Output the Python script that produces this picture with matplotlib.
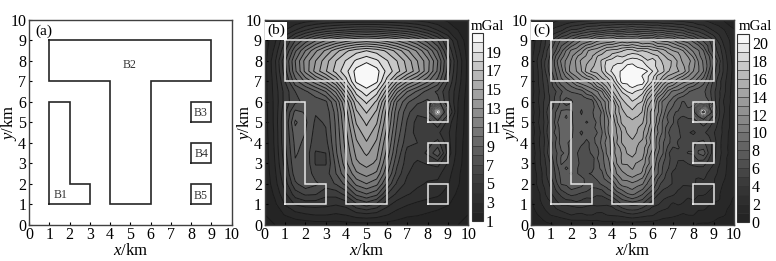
import numpy as np
import matplotlib
matplotlib.use("Agg")
import matplotlib.pyplot as plt
from matplotlib.colors import LinearSegmentedColormap

plt.rcParams['font.family'] = ['Liberation Serif', 'DejaVu Serif']
plt.rcParams['mathtext.fontset'] = 'custom'
plt.rcParams['mathtext.rm'] = 'Liberation Serif'
plt.rcParams['mathtext.it'] = 'Liberation Serif:italic'

# Model outlines in km
t_body = [(1, 9), (9, 9), (9, 7), (6, 7), (6, 1), (4, 1), (4, 7), (1, 7), (1, 9)]
l_body = [(1, 1), (3, 1), (3, 2), (2, 2), (2, 6), (1, 6), (1, 1)]
box_b3 = [(8, 5), (9, 5), (9, 6), (8, 6), (8, 5)]
box_b4 = [(8, 3), (9, 3), (9, 4), (8, 4), (8, 3)]
box_b5 = [(8, 1), (9, 1), (9, 2), (8, 2), (8, 1)]
bodies = [t_body, l_body, box_b3, box_b4, box_b5]

body_names = ['B1', 'B2', 'B3', 'B4', 'B5']
name_x = [1.55, 4.98, 8.45, 8.5, 8.47]
name_y = [1.45, 7.8, 5.47, 3.45, 1.4]

axis_ticks = list(range(0, 11))
cbar_ticks_b = [1, 3, 5, 7, 9, 11, 13, 15, 17, 19]
cbar_ticks_c = [0, 2, 4, 6, 8, 10, 12, 14, 16, 18, 20]

# Grid nodes for (b) every 0.5 km, rows listed from y=10 down to y=0
grid_x = np.arange(21) * 0.5
grid_y = np.arange(20, -1, -1) * 0.5

# Grid nodes for (c) every 0.25 km
fine_x = np.arange(41) * 0.25
fine_y = np.arange(40, -1, -1) * 0.25

# Finer nodes over the B3 box, every 0.125 km
b3_x = 8 + np.arange(9) * 0.125
b3_y = 6 - np.arange(9) * 0.125

# Panel (b), values, mGal
field_b = np.array([
    [1.0,1.4,1.8,2.2,2.5,2.7,2.9,3.0,3.1,3.1,3.1,3.1,3.1,3.0,2.9,2.7,2.5,2.2,1.8,1.4,1.0],
    [1.2,2.0,3.0,4.0,5.0,5.8,6.4,6.8,7.1,7.4,7.5,7.4,7.1,6.8,6.4,5.8,5.0,4.0,3.0,2.0,1.2],
    [1.4,2.8,5.0,7.0,8.5,9.9,11.0,11.9,12.6,13.2,13.5,13.2,12.6,11.9,11.0,9.9,8.5,7.0,5.0,2.8,1.4],
    [1.5,3.3,5.9,8.8,11.0,12.8,14.2,15.6,16.8,17.6,18.0,17.6,16.8,15.6,14.2,12.8,11.0,8.8,5.9,3.3,1.5],
    [1.6,3.8,6.9,10.0,12.4,14.0,15.6,17.0,18.1,19.2,19.8,19.2,18.1,17.0,15.6,14.0,12.4,10.0,6.9,3.8,1.6],
    [1.6,3.7,6.6,9.8,12.3,14.4,15.9,17.4,18.7,20.4,21.0,20.4,18.7,17.4,15.9,14.4,12.3,9.8,6.6,3.7,1.6],
    [1.6,3.5,6.0,8.6,10.2,11.6,13.0,15.0,17.6,20.2,20.8,20.2,17.6,15.0,13.0,11.6,10.2,8.6,6.0,3.5,1.6],
    [1.6,3.4,5.4,7.0,7.8,8.8,10.0,12.2,15.5,18.4,19.6,18.4,15.5,12.2,10.0,8.8,7.6,6.8,5.2,3.2,1.5],
    [1.6,3.3,5.4,6.8,7.2,7.3,7.8,10.0,13.4,16.8,18.2,16.8,13.4,10.0,8.2,7.2,6.8,7.4,5.3,3.0,1.4],
    [1.5,3.3,5.8,8.3,7.9,7.1,7.3,9.4,12.6,15.8,17.1,15.8,12.6,9.3,7.3,6.2,6.9,8.0,6.5,2.9,1.4],
    [1.5,3.3,6.0,9.2,8.2,6.8,7.1,9.2,12.2,15.1,16.2,15.1,12.2,9.0,6.9,5.6,5.4,6.8,4.6,2.8,1.4],
    [1.5,3.2,6.0,8.6,8.0,6.6,6.9,9.1,11.8,14.4,15.6,14.4,11.7,8.6,6.6,5.6,5.1,5.2,4.2,2.7,1.4],
    [1.4,3.2,5.9,8.3,7.8,6.4,6.6,9.0,11.5,13.8,14.9,13.8,11.2,8.2,6.3,6.0,5.6,6.4,4.4,2.6,1.3],
    [1.4,3.1,5.7,8.1,7.7,5.9,6.0,8.8,11.2,13.3,14.2,13.3,10.7,7.8,5.6,5.5,6.2,7.8,4.6,2.5,1.3],
    [1.3,3.0,5.4,7.9,7.8,5.9,5.9,8.3,10.8,12.8,13.4,12.8,10.0,7.2,5.4,4.8,5.1,5.4,3.9,2.4,1.3],
    [1.3,2.8,5.0,7.6,7.8,6.5,6.5,8.0,9.9,11.8,12.4,11.8,9.2,6.6,5.1,4.4,4.3,4.3,3.4,2.2,1.2],
    [1.2,2.6,4.5,6.8,7.7,7.2,6.5,7.1,8.4,10.3,11.0,10.3,7.9,5.8,4.7,4.2,3.9,3.8,3.1,2.1,1.2],
    [1.1,2.2,3.8,5.5,6.2,6.1,5.3,5.4,6.4,8.3,9.0,8.3,6.1,4.8,4.1,3.7,3.4,3.2,2.6,1.8,1.1],
    [1.0,1.8,3.1,4.1,4.4,4.4,4.3,4.1,4.4,5.8,6.5,5.8,4.4,3.5,3.1,2.8,2.6,2.4,2.1,1.5,1.0],
    [1.0,1.4,2.1,2.6,2.9,3.1,3.1,2.9,3.1,3.6,3.8,3.6,3.1,2.6,2.2,2.1,1.9,1.7,1.4,1.2,1.0],
    [1.0,1.0,1.1,1.3,1.4,1.5,1.5,1.5,1.6,1.6,1.6,1.6,1.6,1.5,1.4,1.3,1.2,1.2,1.1,1.0,1.0],
])

anomaly_b3_b = np.array([
    [7.0,7.3,7.6,7.9,8.1,7.9,7.6,7.3,7.0],
    [7.3,8.1,9.2,10.2,10.5,10.2,9.2,8.1,7.3],
    [7.6,9.2,11.5,14.0,15.0,14.0,11.5,9.2,7.6],
    [7.9,10.2,14.0,17.5,19.5,17.5,14.0,10.2,7.9],
    [8.1,10.5,15.0,19.5,21.0,19.5,15.0,10.5,8.1],
    [7.9,10.2,14.0,17.5,19.5,17.5,14.0,10.2,7.9],
    [7.6,9.2,11.5,14.0,15.0,14.0,11.5,9.2,7.6],
    [7.3,8.1,9.2,10.2,10.5,10.2,9.2,8.1,7.3],
    [7.0,7.3,7.6,7.9,8.1,7.9,7.6,7.3,7.0],
])

# Panel (c), the same bodies with noise, read by eye
field_c = np.array([
    [0.4,0.6,0.9,1.2,1.5,1.8,2.0,2.2,2.3,2.5, 2.6,2.6,2.7,2.9,2.9,3.0,2.9,3.1,3.0,3.2, 3.0,3.1,3.1,2.9,2.9,2.8,2.8,2.7,2.7,2.6, 2.5,2.4,2.3,2.1,1.9,1.7,1.4,1.2,0.9,0.6, 0.4],
    [0.7,1.1,1.5,1.9,2.3,2.6,2.9,3.3,3.7,3.9, 4.1,4.5,4.6,4.7,5.0,4.9,5.1,5.2,5.3,5.1, 5.4,5.2,5.2,5.0,4.9,5.0,4.6,4.7,4.5,4.2, 4.2,3.8,3.6,3.1,3.0,2.6,2.2,1.9,1.5,1.0, 0.7],
    [1.0,1.5,2.1,2.7,3.1,3.6,3.8,4.6,5.2,5.2, 5.6,6.2,6.5,6.4,6.7,7.1,7.3,7.0,7.2,7.6, 7.6,7.2,7.3,7.3,7.0,6.8,6.9,6.4,6.3,6.2, 5.9,5.2,4.8,4.6,4.1,3.4,2.9,2.6,2.1,1.5, 1.1],
    [1.2,1.9,2.5,3.3,4.0,4.4,5.5,6.0,6.8,7.2, 7.9,8.1,8.6,9.3,9.5,9.9,9.8,10.4,10.2,10.6, 10.4,10.6,10.0,9.8,9.9,9.1,9.4,8.8,8.7,8.0, 7.9,7.1,6.7,5.9,5.4,4.7,4.0,3.1,2.4,1.8, 1.2],
    [1.3,2.1,2.9,4.1,4.8,6.2,7.2,7.6,8.3,9.4, 10.1,10.2,10.8,11.7,12.1,12.0,12.4,13.1,13.4,13.1, 13.3,13.4,13.0,13.1,12.8,12.1,11.7,11.6,11.2,10.2, 9.7,9.4,8.7,7.5,6.8,6.2,5.1,3.6,2.7,2.1, 1.3],
    [1.4,2.2,3.1,4.2,5.5,6.6,7.9,8.6,9.8,10.4, 11.3,12.2,12.6,13.3,13.7,14.4,14.4,14.8,15.2,15.0, 15.4,15.0,14.5,14.7,14.5,13.6,13.6,13.3,12.6,12.0, 11.4,10.7,9.7,9.1,7.9,6.8,5.4,4.5,3.0,2.2, 1.4],
    [1.5,2.3,3.2,4.7,6.1,7.1,8.6,10.1,11.2,11.6, 12.5,13.8,14.4,14.5,15.3,16.1,16.4,16.4,16.9,17.6, 17.4,16.8,17.0,16.9,16.2,16.0,15.5,14.6,14.0,13.8, 13.0,11.7,10.8,10.1,9.0,7.0,5.7,4.6,3.4,2.2, 1.4],
    [1.6,2.5,3.6,4.8,6.4,8.1,9.4,10.6,11.7,12.8, 13.4,14.1,14.8,15.9,16.3,16.4,17.4,18.0,17.8,18.1, 18.5,18.6,17.8,17.3,17.4,17.0,16.2,15.6,15.0,14.4, 13.4,12.9,11.7,10.3,9.4,8.2,6.4,5.0,3.6,2.4, 1.5],
    [1.6,2.7,3.9,5.3,6.7,8.7,10.2,11.2,12.1,13.2, 14.3,14.8,15.2,16.2,17.2,18.2,18.4,18.2,18.7,19.4, 19.6,19.3,19.0,18.1,18.6,17.6,16.8,16.2,15.9,14.8, 13.7,13.3,12.6,10.9,9.8,8.4,7.1,5.6,3.7,2.6, 1.5],
    [1.5,2.6,3.8,5.4,6.8,8.5,9.9,11.4,12.3,13.1, 14.1,15.1,15.7,16.4,17.1,18.6,18.8,19.7,19.4,20.2, 20.3,19.8,19.7,18.9,18.8,17.4,17.1,16.3,15.8,14.7, 14.2,13.1,12.3,11.1,9.9,8.6,6.8,5.2,3.8,2.7, 1.6],
    [1.5,2.5,3.6,5.2,6.8,8.1,9.5,11.2,12.5,13.0, 14.0,15.4,16.2,16.4,17.0,18.4,19.2,19.7,20.2,20.9, 20.8,20.6,20.3,20.0,19.0,18.1,17.3,16.1,15.6,15.1, 14.6,13.2,12.0,11.1,10.0,8.1,6.4,5.3,3.8,2.6, 1.6],
    [1.6,2.4,3.6,4.8,6.3,7.8,9.1,10.2,11.2,12.1, 12.9,13.8,14.4,15.3,16.3,17.2,18.2,19.6,20.3,20.1, 20.6,20.7,19.9,19.1,18.4,16.7,16.0,14.9,14.4,13.7, 12.9,12.0,11.2,10.3,9.2,7.6,6.1,4.8,3.6,2.5, 1.5],
    [1.6,2.4,3.6,4.6,5.8,7.4,8.8,9.1,10.0,11.2, 11.9,12.0,12.7,14.2,15.3,16.0,17.2,19.0,20.4,20.2, 20.4,20.6,20.5,19.1,17.9,16.4,14.7,13.7,13.2,12.0, 11.3,11.0,10.4,9.2,8.4,7.2,5.8,4.4,3.4,2.4, 1.5],
    [1.5,2.4,3.4,4.5,5.6,6.7,7.7,8.5,9.0,9.7, 10.2,10.9,11.4,12.9,13.8,15.2,16.4,17.7,19.3,19.8, 20.2,19.8,19.6,18.0,16.7,15.0,13.6,12.2,11.6,10.8, 10.2,9.3,8.9,8.3,7.7,6.6,5.5,4.5,3.3,2.3, 1.5],
    [1.5,2.3,3.3,4.4,5.6,6.0,6.8,7.7,8.1,8.1, 8.5,9.6,10.3,10.8,11.9,14.0,15.8,16.9,18.1,19.0, 19.2,18.8,18.4,16.6,15.3,13.9,12.5,10.7,9.7,9.6, 9.1,8.1,7.6,7.3,7.2,6.5,5.3,4.2,3.3,2.3, 1.4],
    [1.6,2.4,3.4,4.2,5.3,6.3,7.2,7.1,7.3,7.8, 7.7,8.4,8.7,10.1,11.3,12.5,14.6,16.2,17.4,17.8, 18.7,18.2,17.4,15.6,14.4,12.3,11.1,9.9,9.1,8.3, 7.9,7.7,7.2,7.6,7.3,6.7,5.3,4.3,3.1,2.2, 1.4],
    [1.6,2.5,3.4,4.5,5.2,6.5,7.1,6.5,6.8,7.6, 7.3,7.1,7.5,9.1,10.3,11.4,13.1,15.4,16.5,17.6, 17.9,17.4,16.9,14.6,13.6,11.4,9.7,9.2,8.4,7.3, 6.9,7.3,7.1,7.5,7.6,7.1,5.5,4.1,2.9,2.2, 1.5],
    [1.5,2.4,3.3,4.6,5.7,6.4,7.8,7.2,7.7,7.1, 7.1,7.8,7.6,8.4,9.9,11.5,13.1,14.3,16.3,16.6, 17.5,16.5,16.1,14.1,13.1,11.2,9.8,8.7,7.9,7.3, 6.6,7.1,6.9,7.8,7.7,7.2,6.1,4.1,3.1,2.1, 1.4],
    [1.4,2.3,3.2,4.8,6.1,7.1,8.1,8.7,8.2,7.3, 6.9,7.5,7.9,8.3,9.1,11.3,12.9,14.7,15.5,16.8, 16.6,16.7,15.9,13.8,12.3,11.2,9.6,8.2,7.1,6.9, 6.4,6.4,6.8,7.7,8.1,7.6,6.7,4.2,3.1,2.1, 1.3],
    [1.5,2.4,3.3,4.6,5.9,7.2,8.5,9.2,8.1,7.7, 7.1,7.3,7.6,8.6,9.2,10.7,12.4,14.1,15.4,15.9, 16.2,15.9,15.5,13.7,12.4,10.6,9.2,7.7,7.1,6.1, 5.9,6.1,6.2,6.9,7.3,6.6,5.7,4.1,2.9,2.1, 1.4],
    [1.5,2.5,3.4,4.4,5.8,7.6,8.9,8.4,8.1,7.7, 7.4,6.9,7.3,8.1,9.4,10.5,11.9,13.9,15.3,15.4, 15.8,15.7,15.1,13.8,12.5,10.4,8.8,8.1,7.1,5.9, 5.4,5.7,5.6,5.9,6.6,5.9,4.8,3.8,2.7,2.1, 1.4],
    [1.4,2.3,3.3,4.6,6.1,7.1,8.7,8.9,8.3,7.4, 7.2,7.5,7.4,8.4,9.1,10.7,12.1,13.2,14.6,15.3, 15.7,15.1,14.6,13.4,11.9,9.8,8.9,7.3,6.7,6.1, 5.5,5.1,5.3,5.2,5.8,5.1,4.6,3.5,2.7,2.1, 1.3],
    [1.4,2.2,3.1,4.7,6.2,7.5,8.3,8.6,8.3,7.2, 6.9,7.3,7.7,7.9,8.9,10.6,12.1,13.1,14.1,15.1, 15.9,14.9,14.2,13.1,11.4,10.1,8.8,7.1,6.4,6.1, 5.8,5.1,4.8,5.3,5.2,4.7,4.1,3.4,2.8,1.9, 1.3],
    [1.4,2.4,3.2,4.4,6.1,6.9,8.5,8.4,8.1,7.6, 7.1,7.1,7.6,8.3,9.1,10.1,11.7,12.9,14.2,14.6, 15.2,14.5,14.2,12.4,11.5,9.4,8.5,7.4,6.5,6.1, 5.9,5.3,5.3,5.4,5.8,5.2,4.3,3.4,2.6,1.9, 1.3],
    [1.4,2.3,3.3,4.3,5.7,7.2,8.5,8.2,7.6,7.8, 7.2,6.8,7.2,8.4,9.2,10.5,11.3,13.1,14.1,14.1, 14.6,14.2,13.6,12.9,11.4,9.3,8.1,7.3,6.5,5.9, 5.8,5.5,5.8,6.2,6.2,5.5,4.6,3.4,2.5,1.9, 1.3],
    [1.4,2.2,3.2,4.5,5.8,7.1,8.1,8.3,7.7,7.4, 6.8,6.9,7.1,7.7,9.1,10.2,11.4,12.4,13.5,14.3, 14.7,13.9,13.6,12.1,11.1,9.5,8.1,6.8,5.9,6.1, 5.7,5.8,5.8,6.9,6.8,5.6,4.5,3.3,2.6,1.8, 1.3],
    [1.3,2.1,3.1,4.6,5.9,6.8,7.9,8.1,7.9,7.1, 6.6,6.1,7.3,7.6,8.6,10.2,11.4,12.5,13.1,14.1, 14.4,13.8,13.5,11.9,10.5,9.1,8.1,6.2,5.4,5.6, 5.7,6.1,6.1,7.1,7.6,5.9,4.4,3.4,2.6,1.9, 1.2],
    [1.3,2.2,3.1,4.2,5.6,6.9,8.1,8.1,7.6,7.4, 6.3,6.6,6.2,7.9,8.7,9.6,11.1,12.2,13.2,13.4, 13.9,13.5,13.1,11.2,10.4,8.6,7.5,6.4,5.5,5.1, 5.3,5.1,5.7,6.3,6.5,5.1,4.3,3.3,2.4,1.7, 1.2],
    [1.3,2.1,3.1,4.1,5.2,6.8,8.1,7.8,7.5,7.1, 6.9,6.1,6.7,7.4,8.7,9.4,10.6,12.1,13.1,13.1, 13.2,12.9,12.6,11.4,10.2,8.2,7.1,6.2,5.6,4.9, 4.6,5.1,5.2,5.6,5.2,4.8,4.1,3.2,2.3,1.8, 1.2],
    [1.2,2.1,2.9,3.9,5.2,6.4,7.7,8.1,7.8,7.2, 6.4,6.8,6.5,7.7,8.2,9.5,10.3,11.3,12.5,12.7, 13.1,12.5,12.1,10.6,9.6,8.1,6.9,6.1,5.2,4.8, 4.6,4.3,4.8,4.7,4.9,4.3,3.6,2.9,2.3,1.7, 1.2],
    [1.2,1.9,2.7,3.9,5.2,6.2,7.4,7.7,8.1,7.1, 6.7,6.9,7.1,7.3,7.8,9.1,10.1,11.1,11.6,12.3, 12.6,12.2,11.9,10.1,9.1,8.1,6.8,5.5,4.8,4.9, 4.6,4.2,4.1,4.6,4.5,3.8,3.2,2.9,2.3,1.6, 1.1],
    [1.1,1.8,2.8,3.7,4.8,6.1,7.2,7.5,7.8,7.5, 7.2,6.8,6.7,7.1,7.6,8.5,9.3,10.2,11.2,11.4, 11.8,11.3,10.9,9.4,8.6,7.1,6.3,5.4,4.9,4.4, 4.3,4.3,4.1,3.9,4.1,3.7,3.1,2.6,2.1,1.6, 1.1],
    [1.1,1.9,2.7,3.5,4.3,5.7,7.1,7.2,7.5,7.6, 7.4,6.7,6.3,6.6,7.2,7.4,8.2,9.6,10.5,10.4, 10.8,10.6,10.1,8.9,8.1,6.5,5.6,5.4,4.9,4.2, 4.1,4.2,4.2,3.7,3.6,3.4,3.1,2.4,1.9,1.5, 1.1],
    [1.1,1.7,2.4,3.2,4.1,5.2,6.2,6.6,7.1,6.9, 6.7,6.3,5.9,5.9,6.2,6.9,7.4,8.7,9.3,9.8, 10.1,9.4,9.1,8.1,7.2,6.1,5.1,4.8,4.5,4.1, 3.8,3.7,3.8,3.3,3.3,3.1,2.9,2.2,1.8,1.4, 1.1],
    [1.1,1.5,2.1,3.1,3.9,4.6,5.3,5.9,6.4,6.1, 5.8,5.7,5.5,5.2,5.2,6.1,6.6,7.4,8.1,8.9, 9.2,8.8,8.1,7.1,6.3,5.1,4.6,4.5,4.2,3.7, 3.5,3.4,3.5,3.1,3.1,2.9,2.7,2.1,1.7,1.3, 1.1],
    [0.9,1.4,2.1,2.7,3.4,4.1,4.7,5.1,5.2,5.4, 5.1,4.8,4.9,4.6,4.7,4.9,5.5,6.3,7.1,7.5, 7.9,7.5,7.1,6.1,5.2,4.5,4.1,3.7,3.5,3.4, 3.2,2.9,3.1,2.8,2.7,2.5,2.3,2.1,1.6,1.2, 0.9],
    [0.8,1.3,1.9,2.4,2.8,3.6,4.2,4.1,4.2,4.6, 4.6,4.2,4.1,4.3,4.2,4.1,4.2,5.2,6.1,6.1, 6.3,6.2,5.9,5.1,4.2,4.1,3.7,3.3,2.8,3.1, 2.9,2.5,2.4,2.6,2.5,2.1,1.9,1.7,1.4,1.1, 0.8],
    [0.7,1.1,1.6,2.1,2.5,2.9,3.3,3.6,3.7,3.6, 3.7,3.7,3.6,3.4,3.5,3.6,3.8,4.1,4.6,5.1, 5.2,5.1,4.6,4.1,3.8,3.4,3.1,2.9,2.7,2.4, 2.4,2.2,2.2,2.1,2.1,1.8,1.7,1.4,1.2,0.9, 0.7],
    [0.6,0.9,1.2,1.7,2.1,2.2,2.4,2.8,3.1,2.9, 2.8,3.1,3.1,2.8,2.7,3.1,3.2,3.2,3.4,3.7, 3.9,3.7,3.5,3.3,3.2,2.7,2.4,2.4,2.3,2.1, 1.9,2.1,2.1,1.6,1.5,1.5,1.4,1.2,1.1,0.8, 0.6],
    [0.4,0.7,0.9,1.2,1.5,1.7,1.8,1.9,2.1,2.1, 2.1,2.1,2.2,2.1,2.3,2.3,2.3,2.5,2.4,2.5, 2.6,2.5,2.4,2.3,2.3,2.1,1.9,1.8,1.7,1.6, 1.5,1.4,1.5,1.3,1.2,1.2,1.1,0.9,0.8,0.6, 0.4],
    [0.3,0.4,0.6,0.8,0.9,1.1,1.1,1.2,1.2,1.3, 1.3,1.3,1.3,1.4,1.4,1.4,1.4,1.5,1.5,1.4, 1.4,1.4,1.5,1.4,1.4,1.3,1.3,1.2,1.2,1.1, 1.1,1.1,1.1,0.9,0.9,0.9,0.8,0.7,0.6,0.4, 0.3],
])

anomaly_b3_c = np.array([
    [7.4,7.1,8.1,7.6,8.3,7.7,7.9,7.1,7.5],
    [7.1,8.3,9.1,10.4,10.2,10.6,9.0,8.2,7.1],
    [7.9,9.1,11.9,13.6,15.4,14.4,11.2,9.4,7.4],
    [7.6,10.6,13.6,18.1,19.6,17.1,14.4,9.8,8.2],
    [8.2,10.1,15.1,19.1,20.8,19.8,14.2,10.8,7.7],
    [7.7,10.4,13.7,17.4,19.1,17.3,13.8,10.3,8.1],
    [7.9,8.9,11.4,14.3,14.1,14.3,11.8,8.9,7.4],
    [7.1,8.3,9.1,10.4,10.3,9.9,9.4,7.8,7.5],
    [7.4,7.1,7.9,7.6,8.2,7.6,7.8,7.1,6.8],
])

levels_b = np.arange(1, 22)
levels_c = np.arange(0, 22)

# Grey ramp tuned against the colour bar and the filled areas, bottom to top
gray_stops = [0.13, 0.17, 0.22, 0.30, 0.39, 0.49, 0.57, 0.65, 0.74, 0.88, 1.0]
grays = LinearSegmentedColormap.from_list('grays', [(g, g, g) for g in gray_stops])

fig = plt.figure(figsize=(7.76, 2.61), dpi=100)


def panel_axes(left, right, top=20.0, bottom=224.7):
    return fig.add_axes([left / 776, 1 - bottom / 261, (right - left) / 776, (bottom - top) / 261])


def style_axes(ax, label_x):
    ax.set_xlim(0, 10)
    ax.set_ylim(0, 10)
    ax.set_xticks(axis_ticks)
    ax.set_yticks(axis_ticks)
    ax.tick_params(direction='in', length=2.5, width=0.8, labelsize=11.5, pad=2)
    ax.set_xlabel(r'$\mathit{x}$/km', fontsize=12, labelpad=0)
    ax.set_ylabel(r'$\mathit{y}$/km', fontsize=12)
    ax.yaxis.set_label_coords(label_x, 0.5)
    for side in ax.spines.values():
        side.set_linewidth(1.0)
        side.set_color('0.25')


# Panel (a): model outlines
ax_a = panel_axes(29, 231.7)
for body in bodies:
    xs, ys = zip(*body)
    ax_a.plot(xs, ys, color='0.15', linewidth=1.2, solid_joinstyle='miter')
for name, nx, ny in zip(body_names, name_x, name_y):
    ax_a.text(nx, ny, name, fontsize=8.5, ha='center', va='center', color='0.2')
ax_a.text(0.33, 9.46, '(a)', fontsize=11, va='center')
style_axes(ax_a, -0.05)

# Panel (b) and (c): filled contours with colour bars
panels = [
    (264.7, 468.3, grid_x, grid_y, field_b, anomaly_b3_b, levels_b, cbar_ticks_b, '(b)', -0.05, 471.7, 483.3, 32.7, 221.0, 0.7, 487.3),
    (530.7, 734.0, fine_x, fine_y, field_c, anomaly_b3_c, levels_c, cbar_ticks_c, '(c)', -0.05, 737.3, 749.0, 34.0, 222.0, 0.6, 755.7),
]
for left, right, gx, gy, field, anomaly, levels, cticks, label, lx, cl, cr, ct, cb, lw, unit_x in panels:
    ax = panel_axes(left, right)
    filled = ax.contourf(gx, gy, field, levels=levels, cmap=grays)
    ax.contour(gx, gy, field, levels=levels, colors='0.1', linewidths=lw)
    ax.contourf(b3_x, b3_y, anomaly, levels=levels, cmap=grays)
    ax.contour(b3_x, b3_y, anomaly, levels=levels, colors='0.12', linewidths=0.3)
    for body in bodies:
        xs, ys = zip(*body)
        ax.plot(xs, ys, color='0.9', linewidth=1.1, solid_joinstyle='miter')
    ax.text(0.13, 9.48, label, fontsize=11, va='center',
            bbox=dict(facecolor='white', edgecolor='none', pad=1.5))
    style_axes(ax, lx)

    cax = panel_axes(cl, cr, ct, cb)
    cbar = fig.colorbar(filled, cax=cax, ticks=cticks, drawedges=True)
    cbar.dividers.set_color('0.2')
    cbar.dividers.set_linewidth(0.5)
    cbar.outline.set_linewidth(0.8)
    cbar.outline.set_edgecolor('0.2')
    cax.tick_params(length=0, labelsize=11.5, pad=2)
    fig.text(unit_x / 776, 1 - 26.7 / 261, 'mGal', fontsize=10.8, ha='center', va='center')

fig.savefig('out.png', dpi=100)
